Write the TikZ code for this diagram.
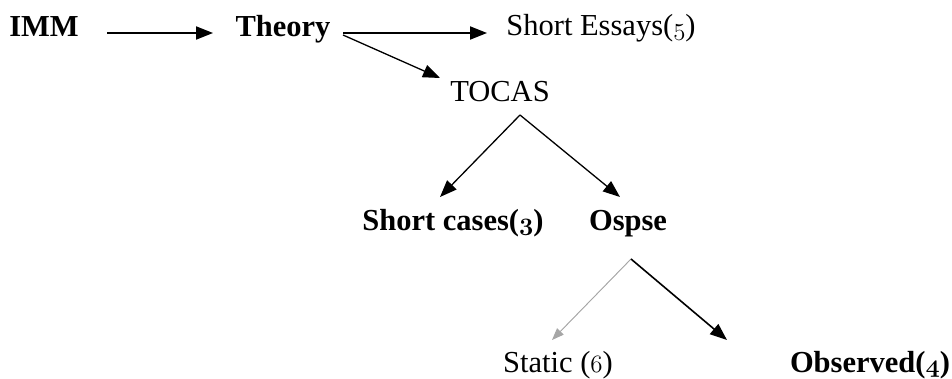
\documentclass[tikz,border=0pt]{standalone}
\usepackage{fontspec}
\setmainfont{Liberation Serif}
\usetikzlibrary{arrows.meta}
\newcommand\osd[1]{{\fontencoding{OML}\fontfamily{cmm}\fontshape{it}\selectfont #1}}
\begin{document}
\begin{tikzpicture}[x=1pt,y=-1pt,
  lbl/.style={anchor=base,inner sep=0pt,font=\fontsize{30.5}{36}\selectfont},
  bl/.style={anchor=base,inner sep=0pt,font=\fontsize{30.5}{36}\selectfont\bfseries},
  arr/.style={-{Triangle[length=17pt,width=13pt]},line width=2pt},
  tarr/.style={-{Triangle[length=17pt,width=13pt]},line width=1.3pt}]
\useasboundingbox[fill=white] (0,0) rectangle (952,379);
\node[bl] (imm) at (44,37) {IMM};
\node[bl] (theory) at (283,37) {Theory};
\node[lbl] (se) at (601,36) {Short Essays(\osd{5})};
\node[lbl] (tocas) at (500,102) {TOCAS};
\node[bl] (sc) at (453,231) {Short cases(\osd{3})};
\node[bl] (ospse) at (628,231) {Ospse};
\node[lbl] (static) at (558,372) {Static (\osd{6})};
\node[bl] (obs) at (870,372) {Observed(\osd{4})};
\draw[arr] ([shift={(63,-4)}]imm.base) -- ([shift={(-70,-4)}]theory.base);
\draw[arr] ([shift={(60,-4)}]theory.base) -- ([shift={(-114,-3)}]se.base);
\draw[tarr] ([shift={(60,-2)}]theory.base) -- ([shift={(-60,-24)}]tocas.base);
\draw[tarr] ([shift={(20,13)}]tocas.base) -- ([shift={(-13,-34)}]sc.base);
\draw[tarr] ([shift={(20,13)}]tocas.base) -- ([shift={(-8,-34)}]ospse.base);
\draw[draw=gray!70,fill=gray!70,line width=0.9pt,-{Triangle[length=12pt,width=9pt]}] ([shift={(3,28)}]ospse.base) -- ([shift={(-6,-32)}]static.base);
\draw[arr,line width=1.6pt] ([shift={(3,28)}]ospse.base) -- ([shift={(-143,-32)}]obs.base);
\end{tikzpicture}
\end{document}
